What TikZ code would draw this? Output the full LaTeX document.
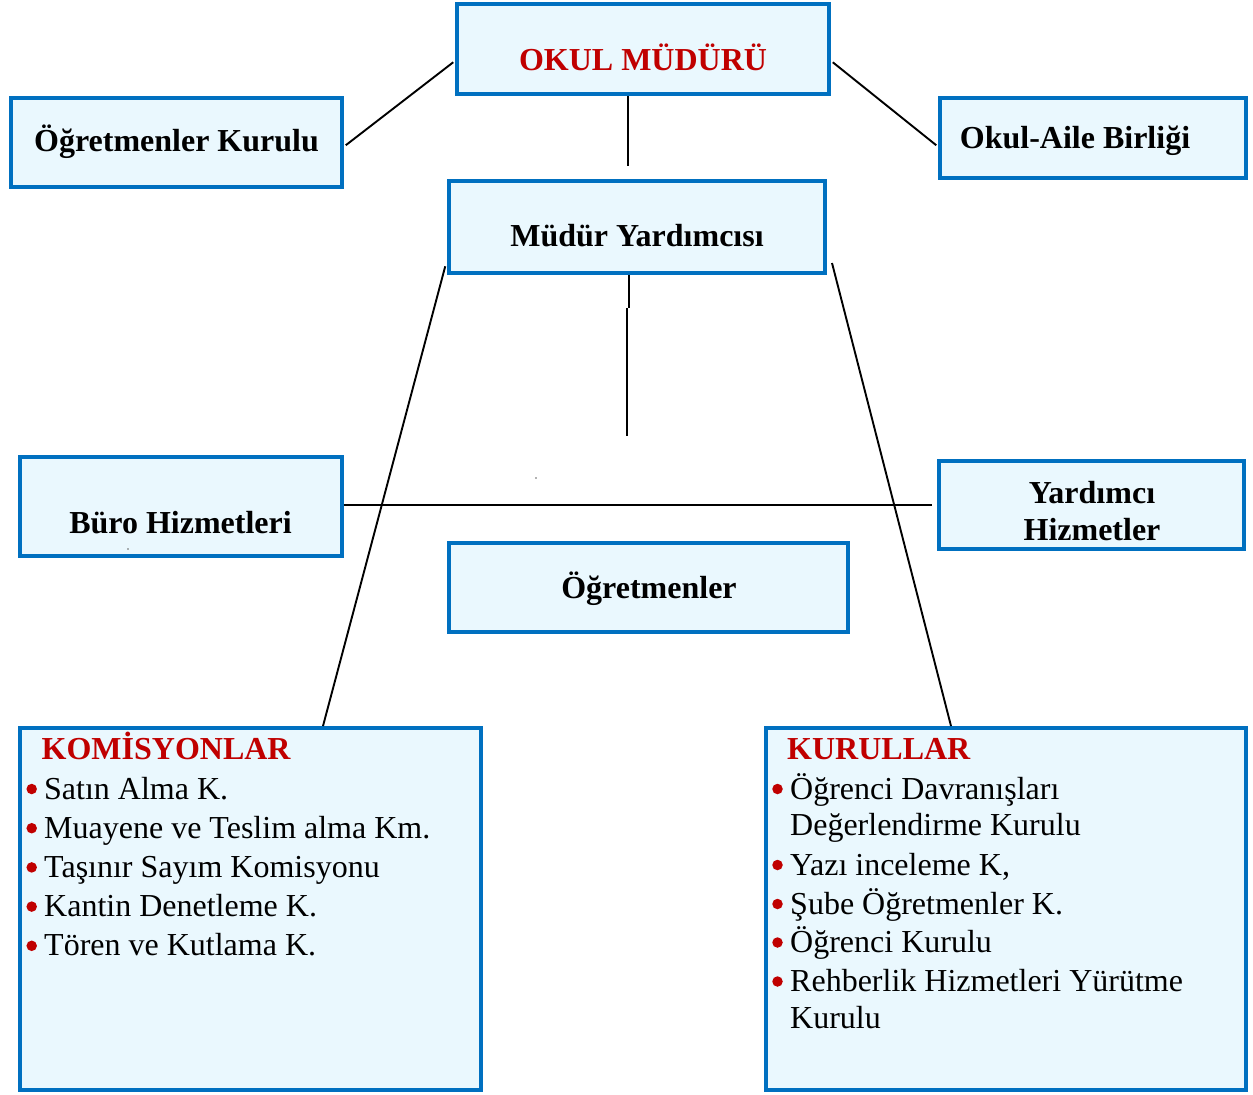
\documentclass[tikz,border=0pt]{standalone}
\usepackage{fontspec}
\setmainfont{Liberation Serif}
\usetikzlibrary{calc}
\definecolor{boxblue}{HTML}{0070C0}
\definecolor{boxfill}{HTML}{EAF8FE}
\definecolor{titlered}{HTML}{C00000}
\begin{document}
\begin{tikzpicture}[x=1pt,y=-1pt,
  box/.style={draw=boxblue,fill=boxfill,line width=3.5pt,rectangle,inner sep=0pt},
  lbl/.style={anchor=base,inner sep=0pt,font=\fontsize{32}{38}\selectfont\bfseries},
  redlbl/.style={lbl,text=titlered},
  item/.style={anchor=base west,inner sep=0pt,font=\fontsize{32}{38}\selectfont},
  ttl/.style={anchor=base west,inner sep=0pt,text=titlered,font=\fontsize{32}{38}\selectfont\bfseries},
  bul/.style={circle,fill=titlered,minimum size=10.5pt,inner sep=0pt},
  conn/.style={draw=black,line width=1.9pt},
  speck/.style={circle,fill=black!60,minimum size=1.6pt,inner sep=0pt}]
\useasboundingbox (0,0) rectangle (1253,1095);

% boxes
\node[box,minimum width=372pt,minimum height=90pt] (okul) at (643,49) {};
\node[box,minimum width=331pt,minimum height=89pt] (ogk) at (176.5,142.5) {};
\node[box,minimum width=306pt,minimum height=80pt] (oab) at (1093,138) {};
\node[box,minimum width=376pt,minimum height=92pt] (my) at (637,227) {};
\node[box,minimum width=322pt,minimum height=99pt] (buro) at (181,506.5) {};
\node[box,minimum width=305pt,minimum height=88pt] (yard) at (1091.5,505) {};
\node[box,minimum width=399pt,minimum height=89pt] (ogr) at (648.5,587.5) {};
\node[box,minimum width=461pt,minimum height=362pt] (kom) at (250.5,909) {};
\node[box,minimum width=480pt,minimum height=362pt] (kur) at (1006,909) {};

% box labels
\node[redlbl] (tokul) at (643,70) {OKUL MÜDÜRÜ};
\node[lbl] (togk) at (176.5,151) {Öğretmenler Kurulu};
\node[lbl] (toab) at (1075,148) {Okul-Aile Birliği};
\node[lbl] (tmy) at (637,246) {Müdür Yardımcısı};
\node[lbl] (tburo) at (180.5,533) {Büro Hizmetleri};
\node[lbl] (tyard1) at (1092,503) {Yardımcı};
\node[lbl] (tyard2) at (1092,540) {Hizmetler};
\node[lbl] (togr) at (649,598) {Öğretmenler};

% KOMISYONLAR
\node[ttl] (tkom) at (41.5,759) {KOMİSYONLAR};
\node[bul] (kb1) at (31.7,789) {};
\node[item] (k1) at (44,799) {Satın Alma K.};
\node[bul] (kb2) at (31.7,828.2) {};
\node[item] (k2) at (44,838.2) {Muayene ve Teslim alma Km.};
\node[bul] (kb3) at (31.7,867.4) {};
\node[item] (k3) at (44,877.4) {Taşınır Sayım Komisyonu};
\node[bul] (kb4) at (31.7,906.6) {};
\node[item] (k4) at (44,916.6) {Kantin Denetleme K.};
\node[bul] (kb5) at (31.7,945.8) {};
\node[item] (k5) at (44,955.8) {Tören ve Kutlama K.};

% KURULLAR
\node[ttl] (tkur) at (787,759) {KURULLAR};
\node[bul] (rb1) at (777.5,789) {};
\node[item] (r1) at (790,799) {Öğrenci Davranışları};
\node[item] (r1b) at (790,835) {Değerlendirme Kurulu};
\node[bul] (rb2) at (777.5,865) {};
\node[item] (r2) at (790,875) {Yazı inceleme K,};
\node[bul] (rb3) at (777.5,904) {};
\node[item] (r3) at (790,914) {Şube Öğretmenler K.};
\node[bul] (rb4) at (777.5,942.5) {};
\node[item] (r4) at (790,952.5) {Öğrenci Kurulu};
\node[bul] (rb5) at (777.5,981.5) {};
\node[item] (r5) at (790,991.5) {Rehberlik Hizmetleri Yürütme};
\node[item] (r5b) at (790,1028) {Kurulu};

% connectors
\coordinate (okulL) at ($(okul.north west)+(-2,60)$);
\coordinate (ogkR) at ($(ogk.north east)+(2,49)$);
\draw[conn] (okulL) -- (ogkR);
\coordinate (okulR) at ($(okul.north east)+(2,60)$);
\coordinate (oabL) at ($(oab.north west)+(-2,49)$);
\draw[conn] (okulR) -- (oabL);
\coordinate (vend) at (628,166);
\draw[conn] (okul.south -| vend) -- (vend);
\coordinate (v1) at (629,308);
\coordinate (v2) at (627,308);
\coordinate (v3) at (627,436);
\draw[conn] (my.south -| v1) -- (v1);
\draw[conn] (v2) -- (v3);
\coordinate (hend) at (932,505);
\draw[conn] (buro.east |- hend) -- (hend);
\coordinate (myL) at ($(my.north west)+(-2,87)$);
\coordinate (komT) at (323,726);
\draw[conn] (myL) -- (komT);
\coordinate (myR) at (832,263);
\coordinate (kurT) at (951,726);
\draw[conn] (myR) -- (kurT);

% small specks
\node[speck] (s1) at (536,478) {};
\node[speck] (s2) at (128,549) {};
\end{tikzpicture}
\end{document}
